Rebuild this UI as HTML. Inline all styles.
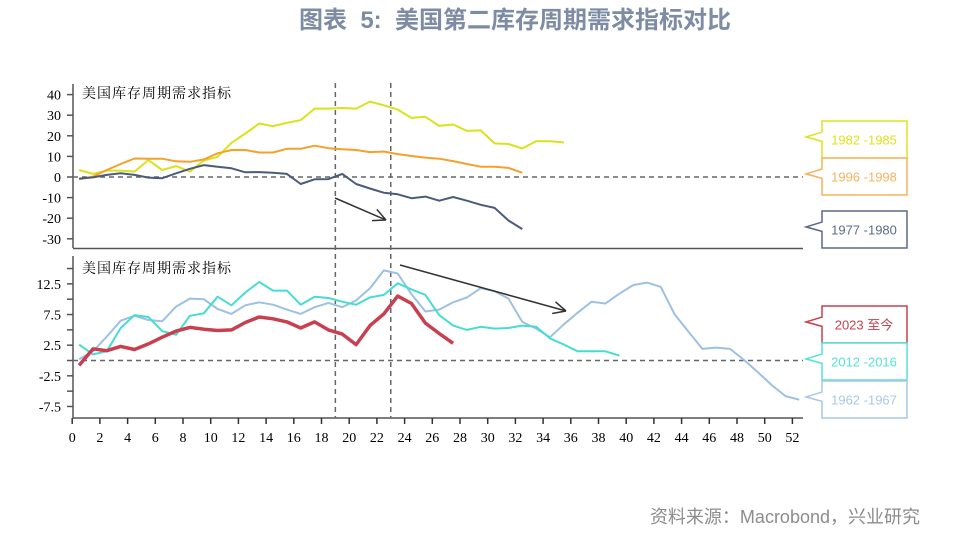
<!DOCTYPE html>
<html><head><meta charset="utf-8"><style>
body{margin:0;background:#fff;width:956px;height:556px;overflow:hidden}
svg{display:block}
</style></head><body>
<svg id="chart" width="956" height="556" xmlns="http://www.w3.org/2000/svg">
<text x="515" y="28" text-anchor="middle" style="white-space:pre" font-family="'Liberation Sans','Noto Sans CJK SC',sans-serif" font-size="24" font-weight="bold" fill="#7d8ca3">图表  5:  美国第二库存周期需求指标对比</text>
<text x="920" y="523" text-anchor="end" font-family="'Liberation Sans','Noto Sans CJK SC',sans-serif" font-size="18" fill="#8c8c8c">资料来源：Macrobond，兴业研究</text>
<g id="axes"></g>
<g id="marks"></g>
<g id="legend"></g>
</svg>
<script>
const xTicks=[0,2,4,6,8,10,12,14,16,18,20,22,24,26,28,30,32,34,36,38,40,42,44,46,48,50,52];
const topTicks=[40,30,20,10,0,-10,-20,-30];
const botTickLabels=[12.5,7.5,2.5,-2.5,-7.5];
const botTicks=[15,12.5,10,7.5,5,2.5,0,-2.5,-5,-7.5];
const s1982=[3.4,1.5,3.1,3.1,2.6,8.2,3.4,5.3,2.6,8,9.8,16.6,21.1,25.9,24.7,26.3,27.6,33.2,33.2,33.5,33.2,36.6,34.8,32.7,28.7,29.2,24.8,25.5,22.4,22.6,16.3,16,13.9,17.4,17.4,16.8];
const s1996=[-1.1,0.2,3.4,6.3,9.0,8.9,8.9,7.6,7.4,8.5,11.5,13.1,13.1,11.9,11.9,13.7,13.7,15.2,14,13.5,13.1,12.1,12.4,11.1,10.2,9.4,8.9,7.7,6.3,5,5,4.4,2.1];
const s1977=[-0.8,-0.2,1,1.8,1,-0.3,-0.6,1.8,4,5.8,5,4.2,2.3,2.4,2.1,1.5,-3.4,-1.1,-1,1.5,-3.4,-5.6,-7.6,-8.4,-10.3,-9.5,-11.5,-9.7,-11.5,-13.5,-15,-21.1,-25.3];
const s2023=[-0.8,1.9,1.6,2.3,1.8,2.7,3.8,4.8,5.4,5.1,4.9,5,6.2,7.1,6.8,6.3,5.3,6.3,5,4.3,2.6,5.7,7.6,10.5,9.3,6.1,4.4,2.8];
const s2012=[2.6,1,1.5,5.3,7.4,7.1,4.8,4.2,7.3,7.7,10.4,9,11.1,12.8,11.4,11.4,9.1,10.4,10.2,9.6,9.1,10.3,10.7,12.6,11.6,10.7,7.4,5.7,5,5.5,5.2,5.3,5.7,5.5,3.6,2.6,1.5,1.5,1.5,0.8];
const s1962=[0.2,1.5,3.9,6.5,7.3,6.6,6.4,8.8,10.1,10,8.4,7.6,9,9.5,9.1,8.3,7.6,8.7,9.4,8.7,9.8,11.8,14.7,14.2,10.8,8,8.3,9.5,10.3,11.8,11.3,10.1,6.3,5.2,3.8,5.9,7.8,9.6,9.3,10.9,12.3,12.7,12,7.5,4.7,1.9,2.1,1.9,0.1,-1.9,-4,-5.8,-6.4];

const NS="http://www.w3.org/2000/svg";
const X=v=>72.2+v*13.85;
const YT=v=>177-v*2.06;
const YB=v=>360.5-v*6.13;
function mk(tag,attrs,parent,text){const e=document.createElementNS(NS,tag);for(const k in attrs)e.setAttribute(k,attrs[k]);if(text!==undefined)e.textContent=text;parent.appendChild(e);return e;}
const axes=document.getElementById('axes'),marks=document.getElementById('marks'),legend=document.getElementById('legend');
const serif="'Liberation Serif','Noto Serif CJK SC',serif";
let a=mk('line',{x1:73,y1:84,x2:73,y2:248,stroke:'#555','stroke-width':1.5},axes);


a=mk('line',{x1:73,y1:248.5,x2:803,y2:248.5,stroke:'#555','stroke-width':1.5},axes);


topTicks.forEach(t=>{const y=YT(t);
 mk('line',{x1:67,y1:y,x2:73,y2:y,stroke:'#555','stroke-width':1.5},axes);
 const l=mk('text',{x:61,y:y+5,'text-anchor':'end','font-family':serif,'font-size':14,fill:'#000'},axes,String(t));
 
 });
a=mk('line',{x1:73,y1:256,x2:73,y2:418,stroke:'#555','stroke-width':1.5},axes);


a=mk('line',{x1:73,y1:418,x2:803,y2:418,stroke:'#555','stroke-width':1.5},axes);


botTicks.forEach(t=>{const y=YB(t);mk('line',{x1:67,y1:y,x2:73,y2:y,stroke:'#555','stroke-width':1.5},axes);});
botTickLabels.forEach(t=>{const y=YB(t);
 const l=mk('text',{x:61,y:y+5,'text-anchor':'end','font-family':serif,'font-size':14,fill:'#000'},axes,String(t));
 
 });
xTicks.forEach(t=>{const x=X(t);mk('line',{x1:x,y1:418,x2:x,y2:424,stroke:'#333','stroke-width':1.5},axes);
 const l=mk('text',{x:x,y:442,'text-anchor':'middle','font-family':serif,'font-size':14,fill:'#000'},axes,String(t));
 
 });
[[93,'top-panel-title'],[268,'bottom-panel-title']].forEach(([y,n])=>{const l=mk('text',{x:82,y:y+5,'font-family':serif,'font-size':14,fill:'#000','letter-spacing':'1'},axes,'美国库存周期需求指标');
 
 });
[[YT(0),'top-zero-line'],[YB(0),'bottom-zero-line']].forEach(([y,n])=>{const l=mk('line',{x1:73,y1:y,x2:803,y2:y,stroke:'#666','stroke-width':1.5,'stroke-dasharray':'5,4'},axes);
 
 });
[19,23].forEach(v=>{const l=mk('line',{x1:X(v),y1:83,x2:X(v),y2:418,stroke:'#666','stroke-width':1.5,'stroke-dasharray':'5,4'},axes);
 
 });
function line(arr,Y,color,w,name){const pts=arr.map((v,i)=>X(i+0.5).toFixed(1)+','+Y(v).toFixed(1)).join(' ');
 const p=mk('polyline',{points:pts,fill:'none',stroke:color,'stroke-width':w,'stroke-linejoin':'round'},marks);
 
 }
line(s1982,YT,'#d9e21c',2,'line-1982-1985');
line(s1996,YT,'#f5a02a',2,'line-1996-1998');
line(s1977,YT,'#4b5b7c',2,'line-1977-1980');
line(s1962,YB,'#9dc1e2',2,'line-1962-1967');
line(s2012,YB,'#45ddd2',2,'line-2012-2016');
line(s2023,YB,'#c8404f',3.5,'line-2023-now');
function arrow(x1,y1,x2,y2,name){const g=mk('g',{},marks);
 
 
 mk('line',{x1,y1,x2,y2,stroke:'#333','stroke-width':1.5},g);
 const ang=Math.atan2(y2-y1,x2-x1),L=14;
 [0.45,-0.45].forEach(d=>mk('line',{x1:x2,y1:y2,x2:x2-L*Math.cos(ang+d),y2:y2-L*Math.sin(ang+d),stroke:'#333','stroke-width':1.5},g));}
arrow(335,198,386,220,'top-trend-arrow');
arrow(400,265,566,311,'bottom-trend-arrow');
const leg=[['1982 -1985','#dde31f',121],['1996 -1998','#f7b25c',158],['1977 -1980','#5c6a88',211],['2023 至今','#c8404f',306],['2012 -2016','#55e2d8',343],['1962 -1967','#a9c8e6',381]];
leg.forEach(([t,c,y])=>{const g=mk('g',{},legend);
 
 
 const h=37,x=822;
 mk('path',{d:`M${x},${y} H907 V${y+h} H${x} V${y+h*0.55} L806,${y+h*0.43} L${x},${y+h*0.3} Z`,fill:'#fff',stroke:c,'stroke-width':1.5},g);
 mk('text',{x:864,y:y+h/2+5,'text-anchor':'middle','font-family':"'Liberation Sans','Noto Sans CJK SC',sans-serif",'font-size':13,fill:c},g,t);});
</script>
</body></html>
